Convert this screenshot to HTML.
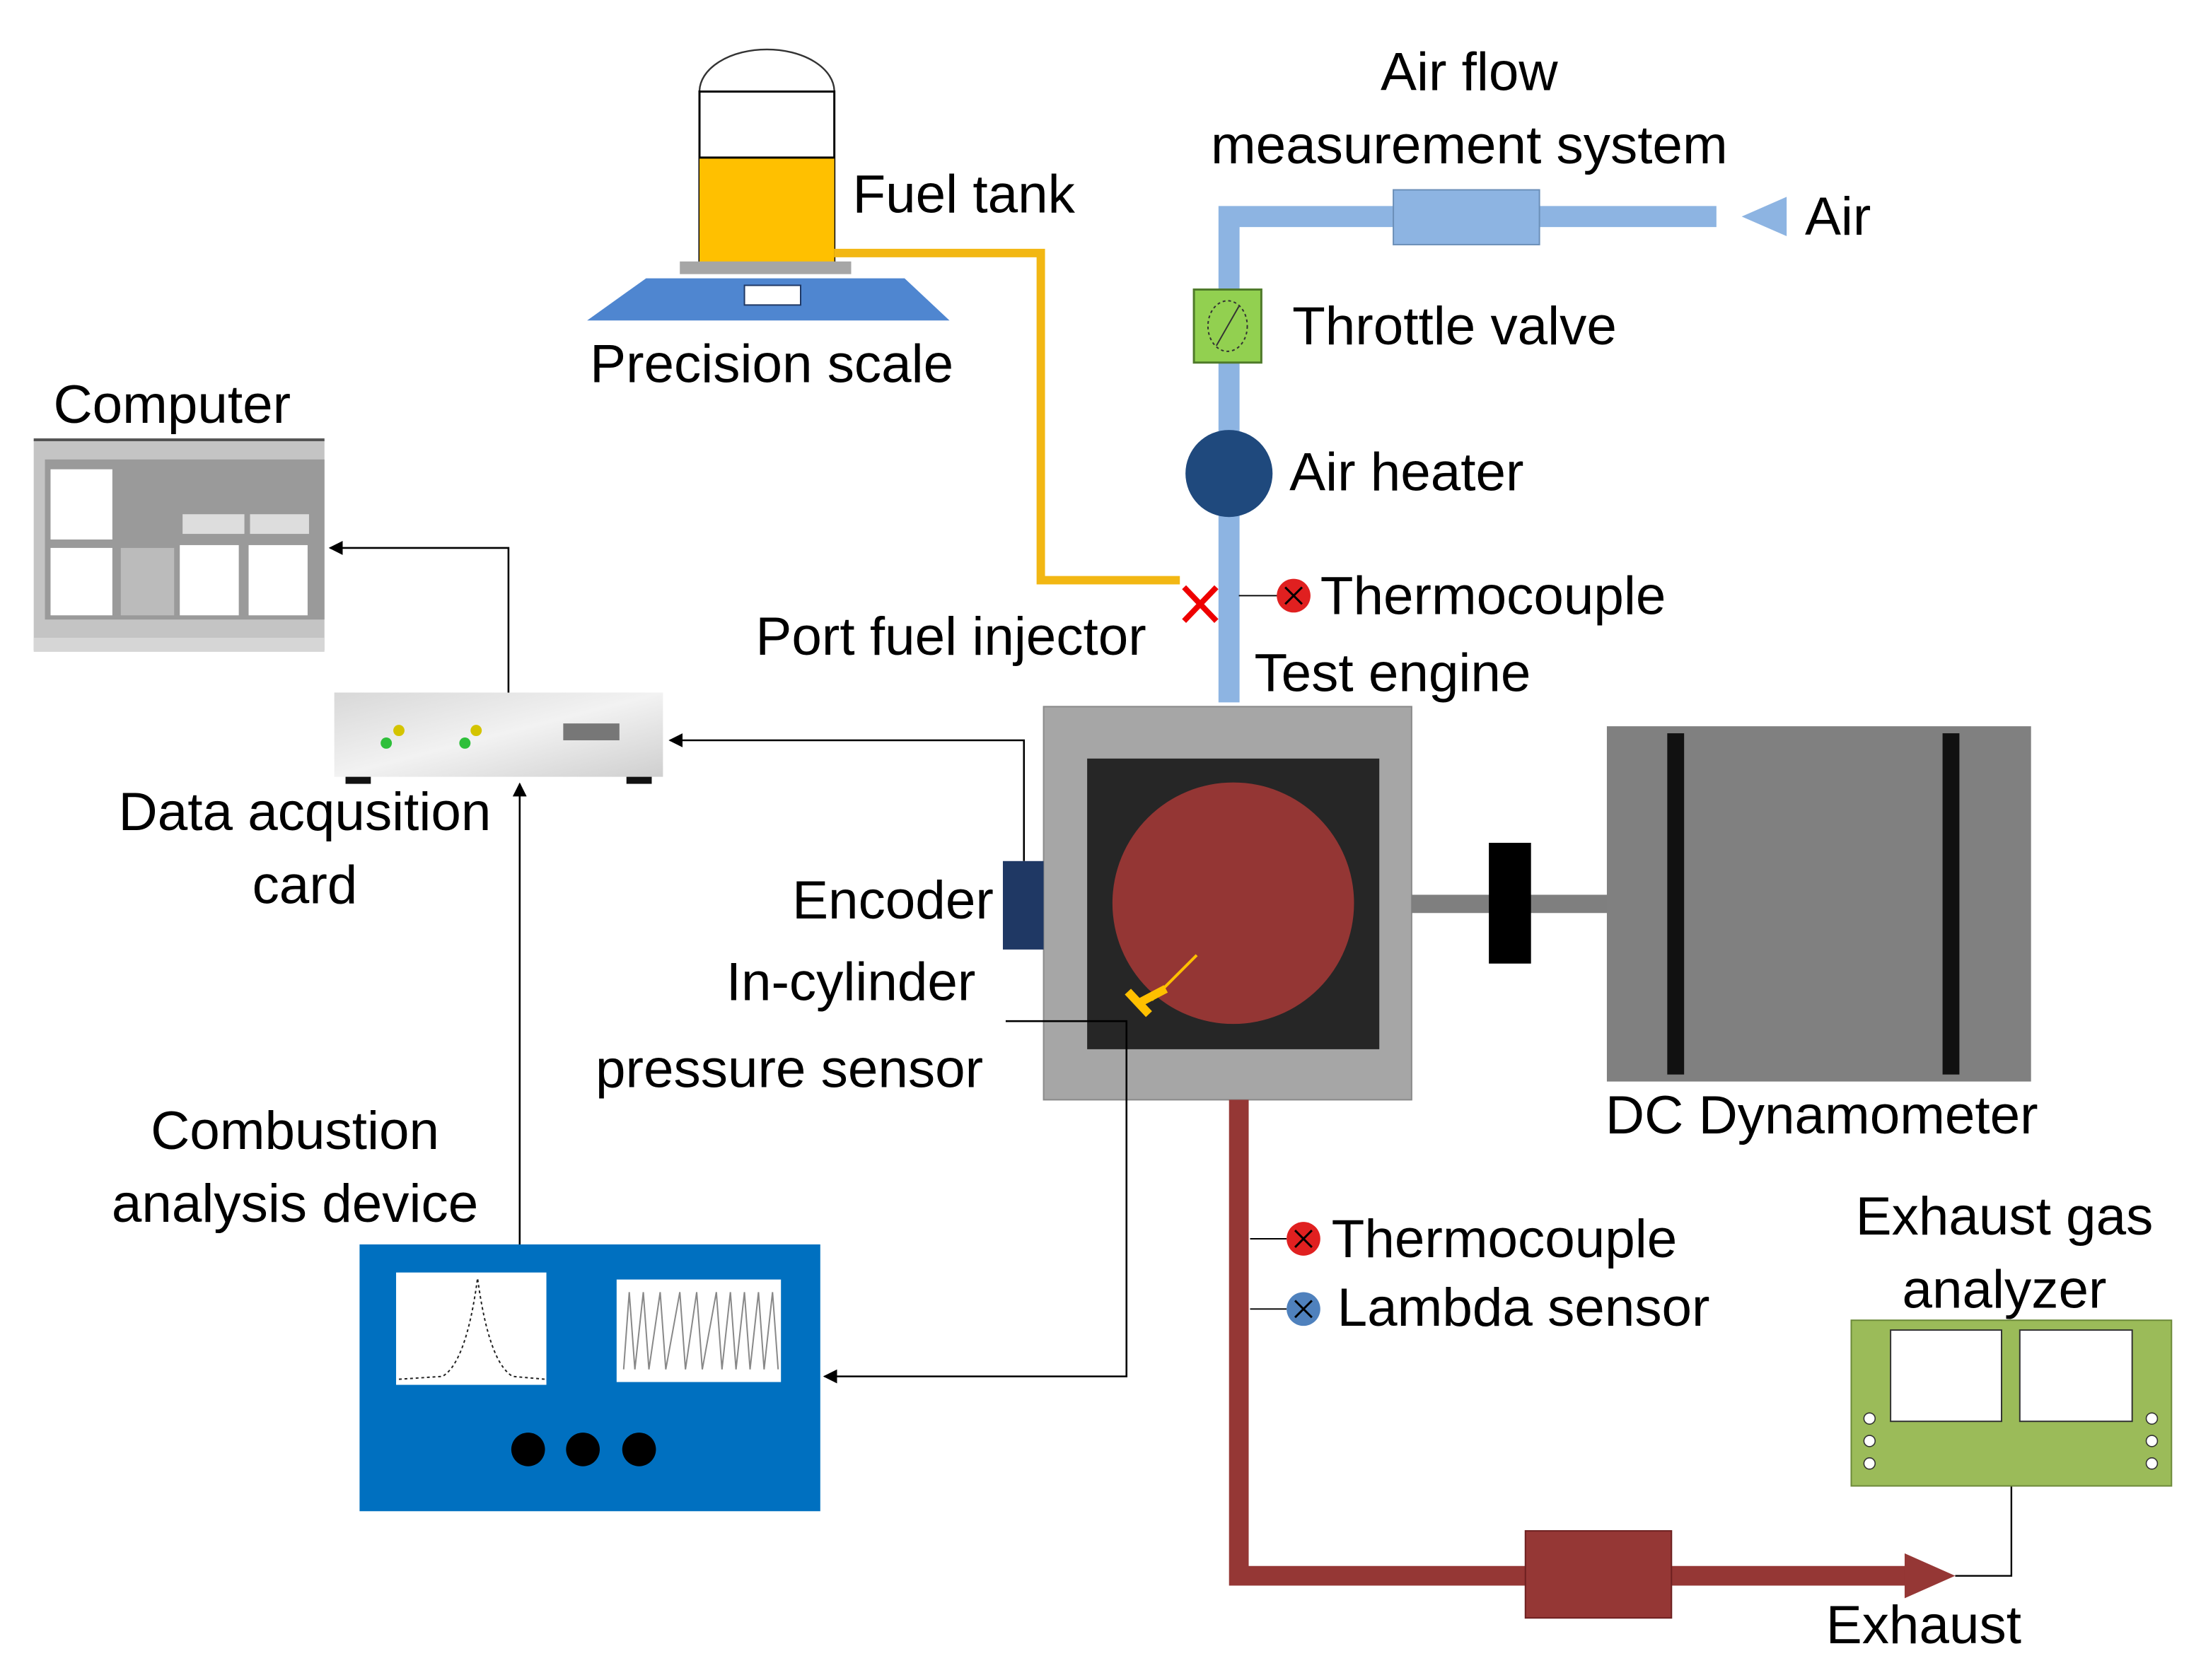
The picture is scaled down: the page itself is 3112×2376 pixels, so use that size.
<!DOCTYPE html>
<html><head><meta charset="utf-8"><style>
html,body{margin:0;padding:0;background:#fff;}
svg{display:block;}
text{font-family:"Liberation Sans",sans-serif;font-size:38.5px;fill:#000;}
</style></head><body>
<svg width="3112" height="2376" viewBox="0 0 1567 1196" xmlns="http://www.w3.org/2000/svg">
<defs>
<marker id="ar" markerWidth="10" markerHeight="10" refX="9" refY="5" orient="auto" markerUnits="userSpaceOnUse"><path d="M0,0 L10,5 L0,10 z" fill="#000"/></marker>
<linearGradient id="daq" x1="0" y1="0" x2="1" y2="1"><stop offset="0" stop-color="#d8d8d8"/><stop offset="0.5" stop-color="#f2f2f2"/><stop offset="1" stop-color="#cfcfcf"/></linearGradient>
</defs>
<path d="M498,65 A48,30 0 0 1 594,65" fill="none" stroke="#333" stroke-width="1.2"/>
<rect x="498" y="65" width="96" height="123" fill="#fff" stroke="#000" stroke-width="1.5"/>
<rect x="498" y="112" width="96" height="76" fill="#FFC000"/>
<line x1="498" y1="112" x2="594" y2="112" stroke="#000" stroke-width="1.5"/>
<rect x="484" y="186" width="122" height="9" fill="#a6a6a6"/>
<path d="M460,198 L644,198 L676,228 L418,228 z" fill="#4F86D0"/>
<rect x="530" y="203" width="40" height="14" fill="#fff" stroke="#1F3864" stroke-width="1"/>
<polyline points="594,180 741,180 741,413 840,413" fill="none" stroke="#F2B713" stroke-width="6"/>
<polyline points="875,500 875,154 1222,154" fill="none" stroke="#8DB4E2" stroke-width="15"/>
<rect x="992" y="135" width="104" height="39" fill="#8DB4E2" stroke="#6b8fb8" stroke-width="1"/>
<path d="M1240,154 L1272,140 L1272,168 z" fill="#8DB4E2"/>
<rect x="850" y="206" width="48" height="52" fill="#92D050" stroke="#4f7a2a" stroke-width="1.5"/>
<ellipse cx="874" cy="232" rx="14" ry="18" fill="none" stroke="#333" stroke-width="1" stroke-dasharray="2,2"/>
<line x1="866" y1="246" x2="882" y2="218" stroke="#333" stroke-width="1"/>
<circle cx="875" cy="337" r="31" fill="#1F497D"/>
<line x1="843" y1="418" x2="866" y2="442" stroke="#E00" stroke-width="4"/>
<line x1="866" y1="418" x2="843" y2="442" stroke="#E00" stroke-width="4"/>
<line x1="882" y1="424" x2="910" y2="424" stroke="#000" stroke-width="1"/>
<circle cx="921" cy="424" r="12" fill="#E02020"/>
<path d="M915,418 L927,430 M927,418 L915,430" stroke="#000" stroke-width="1.5"/>
<rect x="743" y="503" width="262" height="280" fill="#A6A6A6" stroke="#8a8a8a"/>
<rect x="774" y="540" width="208" height="207" fill="#262626"/>
<circle cx="878" cy="643" r="86" fill="#943634"/>
<rect x="714" y="613" width="29" height="63" fill="#1F3864"/>
<line x1="820" y1="712" x2="852" y2="680" stroke="#FFC000" stroke-width="2"/>
<path d="M803,706 L818,722 M811,714 L830,704" stroke="#FFC000" stroke-width="6"/>
<rect x="1005" y="637" width="140" height="13" fill="#7F7F7F"/>
<rect x="1060" y="600" width="30" height="86" fill="#000"/>
<rect x="1144" y="517" width="302" height="253" fill="#808080"/>
<rect x="1187" y="522" width="12" height="243" fill="#111"/>
<rect x="1383" y="522" width="12" height="243" fill="#111"/>
<polyline points="882,783 882,1122 1360,1122" fill="none" stroke="#953735" stroke-width="14"/>
<rect x="1086" y="1090" width="104" height="62" fill="#953735" stroke="#6d2020"/>
<path d="M1356,1106 L1392,1122 L1356,1138 z" fill="#953735"/>
<polyline points="1392,1122 1432,1122 1432,1058" fill="none" stroke="#000" stroke-width="1.2"/>
<line x1="890" y1="882" x2="916" y2="882" stroke="#000" stroke-width="1"/>
<line x1="890" y1="932" x2="916" y2="932" stroke="#000" stroke-width="1"/>
<circle cx="928" cy="882" r="12" fill="#E02020"/>
<path d="M922,876 L934,888 M934,876 L922,888" stroke="#000" stroke-width="1.5"/>
<circle cx="928" cy="932" r="12" fill="#4F81BD"/>
<path d="M922,926 L934,938 M934,926 L922,938" stroke="#000" stroke-width="1.5"/>
<rect x="1318" y="940" width="228" height="118" fill="#9BBB59" stroke="#6d8a3a"/>
<rect x="1346" y="947" width="79" height="65" fill="#fff" stroke="#333"/>
<rect x="1438" y="947" width="80" height="65" fill="#fff" stroke="#333"/>
<g fill="#fff" stroke="#333" stroke-width="0.8"><circle cx="1331" cy="1010" r="4"/><circle cx="1331" cy="1026" r="4"/><circle cx="1331" cy="1042" r="4"/><circle cx="1532" cy="1010" r="4"/><circle cx="1532" cy="1026" r="4"/><circle cx="1532" cy="1042" r="4"/></g>
<rect x="256" y="886" width="328" height="190" fill="#0070C0"/>
<rect x="282" y="906" width="107" height="80" fill="#fff"/>
<path d="M284,982 L315,980 Q332,970 340,910 Q348,970 365,980 L388,982" fill="none" stroke="#222" stroke-width="1" stroke-dasharray="2,2"/>
<rect x="439" y="911" width="117" height="73" fill="#fff"/>
<path d="M444,975 L448,920 L452,975 L458,920 L462,975 L470,920 L474,975 L484,920 L488,975 L496,920 L500,975 L510,920 L514,975 L520,920 L524,975 L530,920 L534,975 L540,920 L544,975 L550,920 L554,975" fill="none" stroke="#888" stroke-width="1"/>
<circle cx="376" cy="1032" r="12" fill="#000"/><circle cx="415" cy="1032" r="12" fill="#000"/><circle cx="455" cy="1032" r="12" fill="#000"/>
<rect x="238" y="493" width="234" height="60" fill="url(#daq)"/>
<rect x="246" y="553" width="18" height="5" fill="#111"/><rect x="446" y="553" width="18" height="5" fill="#111"/>
<circle cx="284" cy="520" r="4" fill="#D4C400"/><circle cx="275" cy="529" r="4" fill="#2EBF3A"/>
<circle cx="339" cy="520" r="4" fill="#D4C400"/><circle cx="331" cy="529" r="4" fill="#2EBF3A"/>
<rect x="401" y="515" width="40" height="12" fill="#777"/>
<rect x="24" y="313" width="207" height="150" fill="#c4c4c4"/>
<line x1="24" y1="313" x2="231" y2="313" stroke="#555" stroke-width="2"/>
<rect x="32" y="327" width="199" height="114" fill="#9a9a9a"/>
<rect x="36" y="334" width="44" height="50" fill="#fff"/><rect x="36" y="390" width="44" height="48" fill="#fff"/>
<rect x="86" y="390" width="38" height="48" fill="#bbb"/>
<rect x="128" y="388" width="42" height="50" fill="#fff"/><rect x="177" y="388" width="42" height="50" fill="#fff"/>
<rect x="130" y="366" width="44" height="14" fill="#ddd"/><rect x="178" y="366" width="42" height="14" fill="#ddd"/>
<rect x="24" y="454" width="207" height="10" fill="#d6d6d6"/>
<polyline points="729,613 729,527 477,527" fill="none" stroke="#000" stroke-width="1.3" marker-end="url(#ar)"/>
<polyline points="362,493 362,390 235,390" fill="none" stroke="#000" stroke-width="1.3" marker-end="url(#ar)"/>
<polyline points="370,886 370,558" fill="none" stroke="#000" stroke-width="1.3" marker-end="url(#ar)"/>
<polyline points="716,727 802,727 802,980 587,980" fill="none" stroke="#000" stroke-width="1.3" marker-end="url(#ar)"/>
<text x="1046" y="64" text-anchor="middle">Air flow</text>
<text x="1046" y="116" text-anchor="middle">measurement system</text>
<text x="1285" y="167">Air</text>
<text x="607" y="151">Fuel tank</text>
<text x="420" y="272">Precision scale</text>
<text x="920" y="245">Throttle valve</text>
<text x="918" y="349">Air heater</text>
<text x="940" y="437">Thermocouple</text>
<text x="538" y="466">Port fuel injector</text>
<text x="893" y="492">Test engine</text>
<text x="38" y="301">Computer</text>
<text x="217" y="591" text-anchor="middle">Data acqusition</text>
<text x="217" y="643" text-anchor="middle">card</text>
<text x="564" y="654">Encoder</text>
<text x="517" y="712">In-cylinder</text>
<text x="424" y="774">pressure sensor</text>
<text x="210" y="818" text-anchor="middle">Combustion</text>
<text x="210" y="870" text-anchor="middle">analysis device</text>
<text x="1143" y="807">DC Dynamometer</text>
<text x="948" y="895">Thermocouple</text>
<text x="952" y="944">Lambda sensor</text>
<text x="1427" y="879" text-anchor="middle">Exhaust gas</text>
<text x="1427" y="931" text-anchor="middle">analyzer</text>
<text x="1300" y="1170">Exhaust</text>
</svg>
</body></html>
